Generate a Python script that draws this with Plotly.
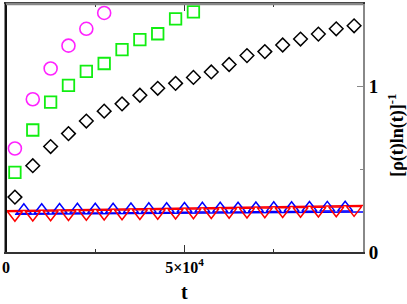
import plotly.graph_objects as go

# ---- data ----
t_circle = [2500, 7500, 12500, 17500, 22500, 27500]
v_circle = [0.626, 0.924, 1.110, 1.248, 1.350, 1.446]

t_square = [2500, 7500, 12500, 17500, 22500, 27500, 32500, 37500, 42500, 47500, 52500]
v_square = [0.482, 0.738, 0.906, 1.008, 1.092, 1.140, 1.224, 1.284, 1.320, 1.410, 1.452]

t_diamond = [2500, 7500, 12500, 17500, 22500, 27500, 32500, 37500, 42500, 47500,
             52500, 57500, 62500, 67500, 72500, 77500, 82500, 87500, 92500, 97500]
v_diamond = [0.332, 0.522, 0.638, 0.716, 0.792, 0.852, 0.896, 0.948, 0.990, 1.020,
             1.056, 1.089, 1.134, 1.188, 1.212, 1.252, 1.288, 1.318, 1.350, 1.368]

t_up = [5000, 10000, 15000, 20000, 25000, 30000, 35000, 40000, 45000, 50000,
        55000, 60000, 65000, 70000, 75000, 80000, 85000, 90000, 95000]
v_up = [0.252, 0.253, 0.254, 0.255, 0.256, 0.256, 0.257, 0.258, 0.259, 0.260,
        0.261, 0.262, 0.262, 0.263, 0.264, 0.265, 0.266, 0.267, 0.268]

t_down = [2500, 7500, 12500, 17500, 22500, 27500, 32500, 37500, 42500, 47500,
          52500, 57500, 62500, 67500, 72500, 77500, 82500, 87500, 92500, 97500]
v_down = [0.225, 0.227, 0.228, 0.230, 0.231, 0.233, 0.234, 0.236, 0.237, 0.239,
          0.241, 0.242, 0.244, 0.245, 0.247, 0.248, 0.250, 0.251, 0.253, 0.255]

t_blue_line = [2500, 100000]
v_blue_line = [0.228, 0.242]
t_red_line = [0, 100000]
v_red_line = [0.249, 0.282]

x_tickvals = [0, 50000]
x_ticktext = ["<b>0</b>", "<b>5×10<sup>4</sup></b>"]
y_tickvals = [0, 1]
y_ticktext = ["<b>0</b>", "<b>1</b>"]

SERIF = "Liberation Serif"

fig = go.Figure()

fig.add_trace(go.Scatter(x=t_blue_line, y=v_blue_line, mode="lines",
                         line=dict(color="#0000ff", width=1.5), showlegend=False))
fig.add_trace(go.Scatter(x=t_red_line, y=v_red_line, mode="lines",
                         line=dict(color="#ff0000", width=1.5), showlegend=False))

fig.add_trace(go.Scatter(x=t_up, y=v_up, mode="markers", showlegend=False,
                         marker=dict(symbol="triangle-up-open", size=13,
                                     color="#0000ff", line=dict(width=1.5, color="#0000ff"))))
fig.add_trace(go.Scatter(x=t_down, y=v_down, mode="markers", showlegend=False,
                         marker=dict(symbol="triangle-down-open", size=13,
                                     color="#ff0000", line=dict(width=1.5, color="#ff0000"))))
fig.add_trace(go.Scatter(x=t_diamond, y=v_diamond, mode="markers", showlegend=False,
                         marker=dict(symbol="diamond-open", size=10.5,
                                     color="#000000", line=dict(width=1.5, color="#000000"))))
fig.add_trace(go.Scatter(x=t_square, y=v_square, mode="markers", showlegend=False,
                         marker=dict(symbol="square-open", size=11.5,
                                     color="#11ee11", line=dict(width=1.8, color="#11ee11"))))
fig.add_trace(go.Scatter(x=t_circle, y=v_circle, mode="markers", showlegend=False,
                         marker=dict(symbol="circle-open", size=13,
                                     color="#ff22ff", line=dict(width=1.6, color="#ff22ff"))))

fig.update_layout(
    width=407, height=304,
    margin=dict(l=4, r=44, t=2, b=52),
    paper_bgcolor="white", plot_bgcolor="white",
    xaxis=dict(range=[0, 100000], showgrid=False, zeroline=False,
               showline=True, linecolor="#333333", linewidth=2, mirror="ticks",
               ticks="inside", ticklen=7, tickwidth=1.2, tickcolor="#333333",
               tickvals=x_tickvals, ticktext=x_ticktext,
               minor=dict(tickvals=[25000, 75000], ticks="inside", ticklen=3,
                          tickwidth=1.2, tickcolor="#333333"),
               tickfont=dict(family=SERIF, size=16, color="black")),
    yaxis=dict(range=[0, 1.5], side="right", showgrid=False, zeroline=False,
               showline=True, linecolor="#888888", linewidth=2, mirror=True,
               ticks="inside", ticklen=6, tickwidth=1.2, tickcolor="#888888",
               tickvals=y_tickvals, ticktext=y_ticktext,
               minor=dict(tickvals=[0.5], ticks="inside", ticklen=3,
                          tickwidth=1.2, tickcolor="#888888"),
               tickfont=dict(family=SERIF, size=19, color="black")),
    shapes=[
        dict(type="line", xref="paper", yref="paper", x0=0, x1=0, y0=0, y1=1,
             line=dict(color="#111111", width=2), layer="above"),
        dict(type="line", xref="paper", yref="paper", x0=0, x1=1, y0=1, y1=1,
             line=dict(color="#888888", width=2.5), layer="above"),
    ],
    annotations=[
        dict(text="<b>t</b>", xref="paper", yref="paper",
             x=(184 - 4) / 359, y=(252 - 292) / 250, xanchor="center", yanchor="middle",
             showarrow=False, font=dict(family=SERIF, size=20, color="black")),
        dict(text="<b>[ρ(t)ln(t)]<sup>-1</sup></b>", xref="paper", yref="paper",
             x=(397 - 4) / 359, y=(252 - 134) / 250, xanchor="center", yanchor="middle",
             textangle=-90, showarrow=False,
             font=dict(family=SERIF, size=18, color="black")),
    ],
)

fig.write_html("out.html", config={"displayModeBar": False},
               post_script="document.body.style.margin='0';document.body.style.padding='0';")
